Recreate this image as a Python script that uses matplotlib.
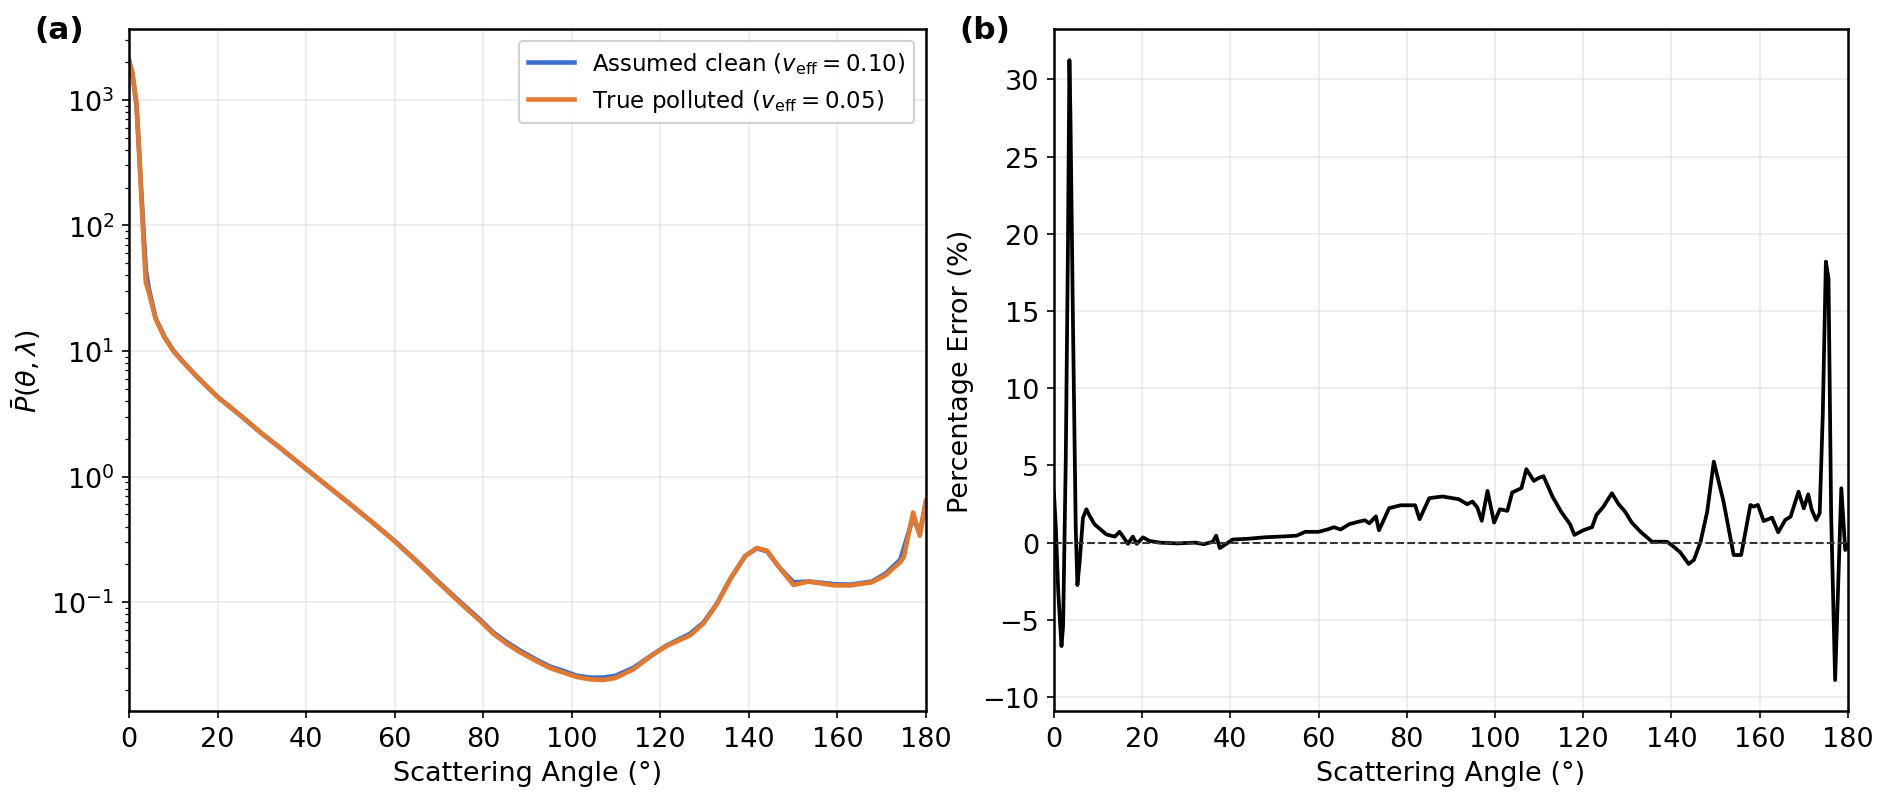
import matplotlib
matplotlib.use('Agg')
import matplotlib.pyplot as plt
import numpy as np

# panel (a): phase function
theta_a = [0, 0.75, 1.7, 2.3, 2.9, 3.4, 3.8, 4.5, 6, 8, 10, 12, 15, 20, 25, 30, 35, 40,
           45, 50, 55, 60, 65, 70, 75, 79.2, 82.3, 85.3, 88.3, 92.1, 95.1, 98.1, 101.1,
           104.1, 107.1, 109.8, 113.9, 118.1, 121.4, 126.7, 129.7, 132.8, 135.8, 139.2,
           141.8, 144.1, 147.1, 150.1, 153.5, 156.9, 159.5, 162.9, 167.8, 170.8, 174.2,
           175.0, 177.1, 178.6, 180]
p_polluted = [2000, 1630, 940, 380, 142, 61, 35, 29, 18, 12.8, 10.0, 8.3, 6.4, 4.3, 3.1,
              2.2, 1.6, 1.15, 0.83, 0.6, 0.43, 0.305, 0.21, 0.142, 0.097, 0.0715, 0.056,
              0.0467, 0.040, 0.0338, 0.0299, 0.0275, 0.0254, 0.0243, 0.024, 0.0249, 0.0292,
              0.0377, 0.0448, 0.0543, 0.0673, 0.097, 0.153, 0.234, 0.270, 0.257, 0.184,
              0.137, 0.146, 0.140, 0.136, 0.136, 0.144, 0.163, 0.208, 0.228, 0.518, 0.338,
              0.64]
p_clean = [2066, 1646, 877, 365, 152, 76, 44, 31, 18.3, 13.0, 10.1, 8.34, 6.43, 4.31, 3.1,
           2.2, 1.6, 1.152, 0.832, 0.602, 0.432, 0.307, 0.212, 0.144, 0.099, 0.0732, 0.0573,
           0.0481, 0.0412, 0.0347, 0.0307, 0.0284, 0.0260, 0.0251, 0.0251, 0.0259, 0.0300,
           0.0379, 0.0452, 0.0560, 0.0686, 0.0975, 0.153, 0.234, 0.268, 0.254, 0.185,
           0.144, 0.146, 0.142, 0.139, 0.138, 0.146, 0.168, 0.218, 0.269, 0.472, 0.35,
           0.639]

# panel (b): percentage error
theta_b = [0, 0.45, 1.0, 1.73, 2.1, 2.7, 3.2, 3.53, 3.76, 4.36, 4.96, 5.34, 5.86, 6.6,
           7.37, 8.1, 9.25, 10.4, 11.9, 13.8, 14.9, 15.8, 16.8, 17.9, 18.8, 20.2, 21.7,
           24, 28, 32, 34, 36, 36.8, 37.6, 39, 40.5, 44, 48, 52, 55, 57, 60, 62, 63.5,
           65, 67, 69, 70.5, 71.5, 73, 73.7, 76, 78.6, 81.9, 82.9, 85.1, 88.1, 91.8,
           93.7, 94.9, 96, 97, 98.3, 99.8, 101.1, 102.8, 103.9, 106, 107.1, 108.8, 110,
           111, 113, 115, 117, 118, 120, 122, 123, 124.5, 126.5, 128, 129.5, 131, 133,
           135.6, 139, 140.5, 142, 143.9, 145.1, 146.6, 148.1, 149.6, 151.8, 154.1,
           155.8, 157.9, 158.6, 159.6, 160.9, 162.8, 164.2, 165.8, 167, 168.8, 170, 171,
           171.8, 172.8, 173.6, 174.3, 175, 175.6, 176.2, 177.1, 177.7, 178.5, 179.4, 180]
err_pct = [3.3, 1.0, -3.2, -6.7, -5.4, 5.3, 19.3, 31.25, 27.7, 13.7, 1.0, -2.75, -1.2,
           1.6, 2.16, 1.74, 1.18, 0.9, 0.53, 0.39, 0.70, 0.34, -0.08, 0.39, -0.08, 0.34,
           0.11, 0.0, -0.05, 0.0, -0.1, 0.05, 0.45, -0.35, -0.1, 0.2, 0.25, 0.35, 0.4,
           0.45, 0.7, 0.7, 0.85, 1.0, 0.85, 1.2, 1.35, 1.45, 1.25, 1.7, 0.8, 2.23, 2.42,
           2.42, 1.52, 2.88, 2.99, 2.81, 2.49, 2.66, 2.27, 1.41, 3.35, 1.30, 2.16, 2.06,
           3.25, 3.53, 4.76, 4.0, 4.2, 4.3, 3.0, 2.0, 1.2, 0.5, 0.8, 1.0, 1.8, 2.3, 3.2,
           2.5, 2.0, 1.3, 0.7, 0.06, 0.06, -0.26, -0.63, -1.38, -1.12, 0.06, 2.0, 5.25,
           2.66, -0.8, -0.8, 2.44, 2.33, 2.44, 1.40, 1.62, 0.67, 1.47, 1.68, 3.30, 2.22,
           3.13, 2.12, 1.47, 1.90, 8.27, 18.2, 17.1, 1.79, -8.9, -3.6, 3.52, -0.48, -0.15]

plt.rcParams['font.family'] = 'DejaVu Sans'
plt.rcParams['mathtext.fontset'] = 'dejavusans'

fig = plt.figure(figsize=(1892 / 150, 805 / 150), dpi=150)
ax1 = fig.add_axes([0.0682, 0.1155, 0.4212, 0.847])
ax2 = fig.add_axes([0.557, 0.1155, 0.4197, 0.847])

ax1.semilogy(theta_a, p_clean, color='#3d6fcf', lw=2.2,
             label=r'Assumed clean ($v_{\rm eff}=0.10$)')
ax1.semilogy(theta_a, p_polluted, color='#e3782f', lw=2.2,
             label=r'True polluted ($v_{\rm eff}=0.05$)')
ax1.set_xlim(0, 180)
ax1.set_xticks(np.arange(0, 181, 20))
ax1.set_xlabel('Scattering Angle (°)', fontsize=13)
ax1.set_ylabel(r'$\bar{P}(\theta,\lambda)$', fontsize=13)
ax1.grid(True, color='#cccccc', alpha=0.4, lw=0.8)
ax1.legend(loc='upper right', fontsize=11, framealpha=0.9)

ax2.plot(theta_b, err_pct, color='k', lw=1.8)
ax2.axhline(0, color='#333333', ls='--', lw=1)
ax2.set_xlim(0, 180)
ax2.set_xticks(np.arange(0, 181, 20))
ax2.set_xlabel('Scattering Angle (°)', fontsize=13)
ax2.set_ylabel('Percentage Error (%)', fontsize=13)
ax2.grid(True, color='#cccccc', alpha=0.4, lw=0.8)

for ax in (ax1, ax2):
    ax.tick_params(labelsize=13)
    for s in ax.spines.values():
        s.set_linewidth(1.2)

fig.text(0.018, 0.962, '(a)', fontsize=15, fontweight='bold', va='center')
fig.text(0.507, 0.962, '(b)', fontsize=15, fontweight='bold', va='center')

fig.savefig('out.png', dpi=150)
